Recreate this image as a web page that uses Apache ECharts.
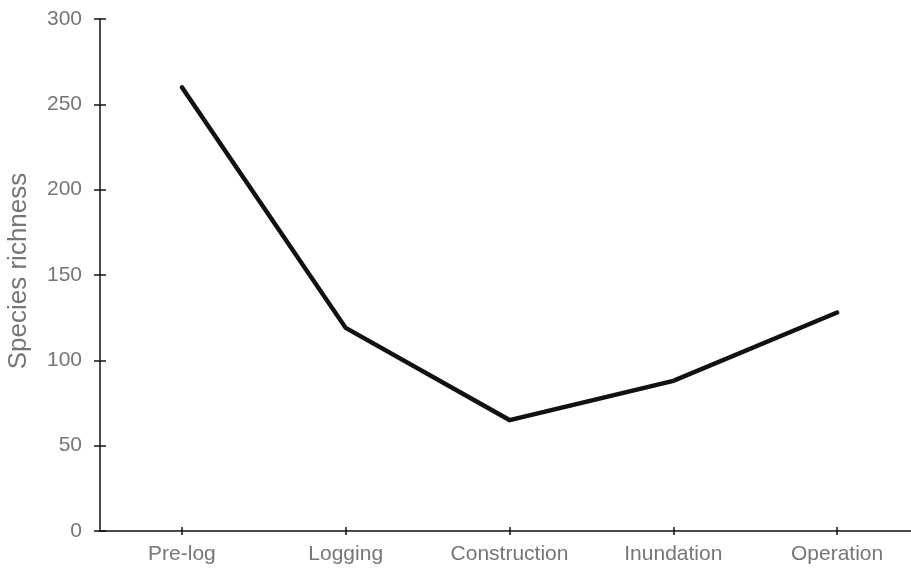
<!DOCTYPE html>
<html>
<head>
<meta charset="utf-8">
<script src="https://cdn.jsdelivr.net/npm/echarts@6/dist/echarts.min.js"></script>
<style>html,body{margin:0;padding:0;background:#fff;}#c{width:911px;height:570px;}</style>
</head>
<body>
<div id="c"></div>
<script>
const categories = ['Pre-log', 'Logging', 'Construction', 'Inundation', 'Operation'];
const richness = [260, 119, 65, 88, 128];
const yTicks = [0, 50, 100, 150, 200, 250, 300];

const chart = echarts.init(document.getElementById('c'), null, {renderer: 'canvas'});
const labelColor = '#767676';
const font = 'Liberation Sans, Arial, Helvetica, sans-serif';
const axisLine = {show: true, lineStyle: {color: '#111', width: 1.5}};
chart.setOption({
  animation: false,
  backgroundColor: '#fff',
  grid: {left: 100, top: 19, width: 819, bottom: 39, containLabel: false, outerBoundsMode: 'none'},
  xAxis: [
    {
      type: 'category', data: categories, boundaryGap: true,
      axisLine: axisLine,
      axisTick: {show: true, alignWithLabel: true, length: 4, lineStyle: {color: '#111', width: 1.5}},
      axisLabel: {color: labelColor, fontSize: 21, fontFamily: font, margin: 13},
      splitLine: {show: false}
    },
    {
      type: 'category', data: categories, boundaryGap: true, position: 'bottom',
      axisLine: {show: false},
      axisTick: {show: true, inside: true, alignWithLabel: true, length: 4, lineStyle: {color: '#111', width: 1.5}},
      axisLabel: {show: false}, splitLine: {show: false}
    }
  ],
  yAxis: [
    {
      type: 'value', min: yTicks[0], max: yTicks[yTicks.length - 1], interval: 50,
      name: 'Species richness', nameLocation: 'middle', nameGap: 68, nameRotate: 90,
      nameTextStyle: {color: labelColor, fontSize: 26, fontFamily: font, padding: [0, 0, 0, 8]},
      axisLine: axisLine,
      axisTick: {show: true, length: 6, lineStyle: {color: '#111', width: 1.5}},
      axisLabel: {color: labelColor, fontSize: 21, fontFamily: font, margin: 18},
      splitLine: {show: false}
    },
    {
      type: 'value', min: yTicks[0], max: yTicks[yTicks.length - 1], interval: 50, position: 'left',
      axisLine: {show: false},
      axisTick: {show: true, inside: true, length: 6, lineStyle: {color: '#111', width: 1.5}},
      axisLabel: {show: false}, splitLine: {show: false}
    }
  ],
  series: [{
    type: 'line', data: richness, symbol: 'none', smooth: false,
    lineStyle: {color: '#111', width: 4.5, cap: 'round', join: 'miter'}
  }]
});
</script>
</body>
</html>
